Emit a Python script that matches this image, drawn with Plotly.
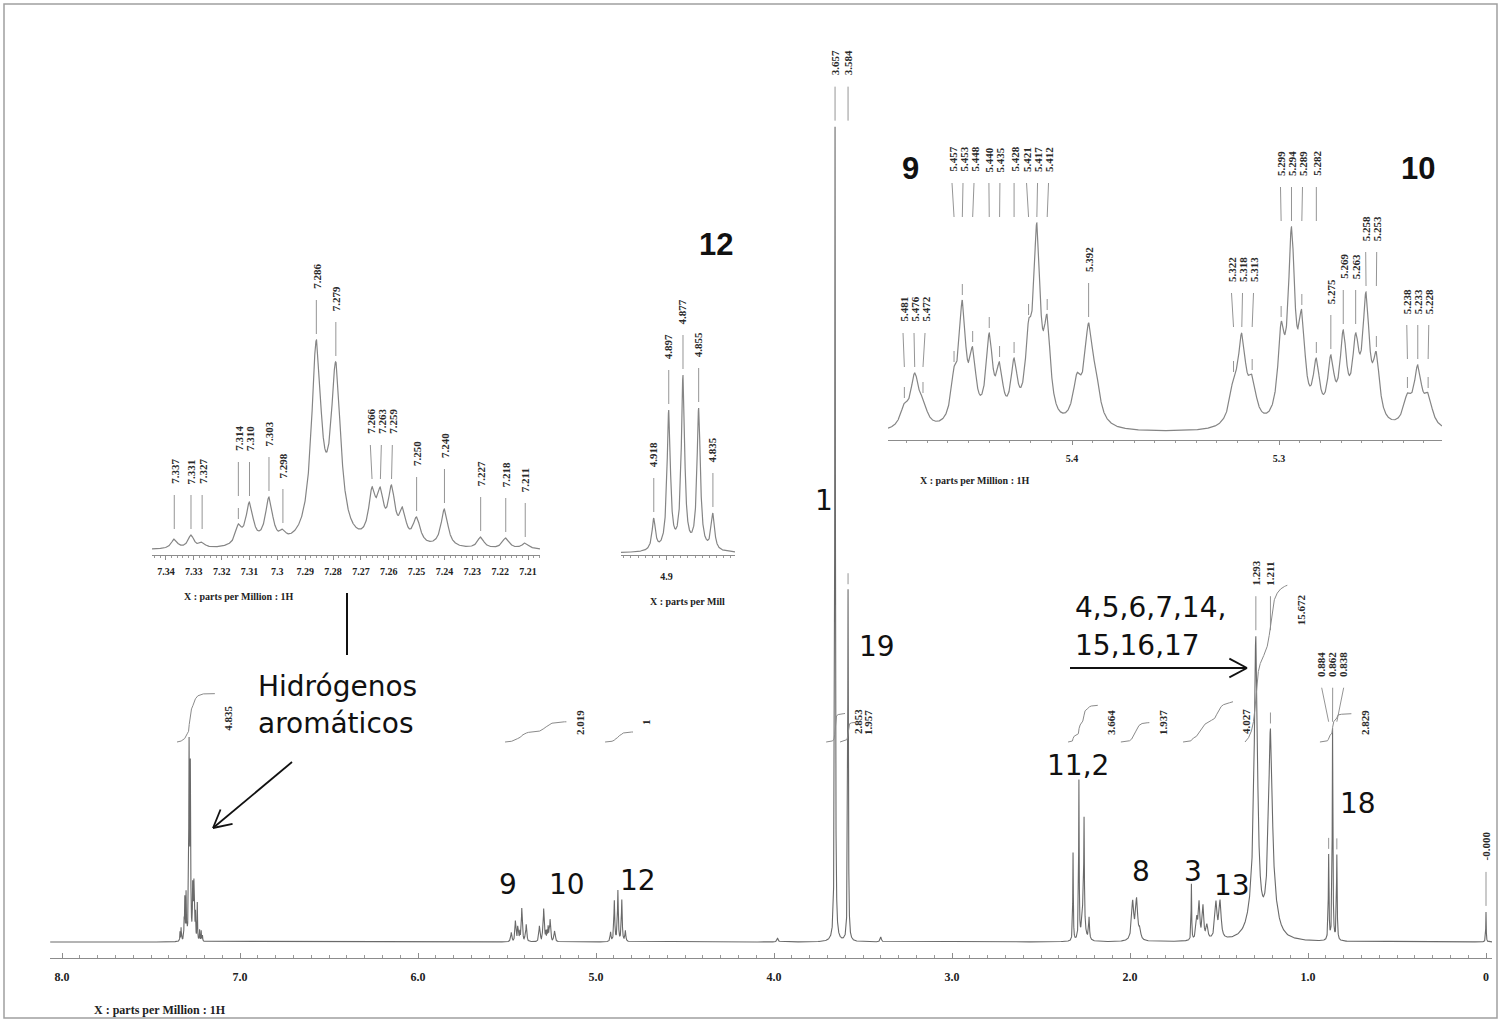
import numpy as np
import plotly.graph_objects as go

W, H = 1501, 1022

# ======================= DATA =======================
# Main 1H spectrum signals that are not expanded in an inset
# (ppm, height above baseline in plot units, half width in ppm)
MAIN_PPM = [3.980, 3.657, 3.584, 3.400,
            2.320, 2.287, 2.262, 2.258, 2.230,
            1.985, 1.963, 1.945,
            1.655, 1.625, 1.612, 1.590, 1.568,
            1.517, 1.494,
            1.310, 1.293, 1.211, 1.185,
            0.884, 0.862, 0.838, 0.000]
MAIN_HEIGHT = [4, 815, 352, 5,
               88, 158, 40, 92, 22,
               38, 40, 9,
               56, 20, 36, 33, 14,
               36, 37,
               22, 282, 198, 14,
               85, 212, 85, 30]
MAIN_HWHM = [0.004, 0.0022, 0.0022, 0.004,
             0.0018, 0.0018, 0.008, 0.0018, 0.003,
             0.007, 0.007, 0.006,
             0.0018, 0.005, 0.005, 0.005, 0.006,
             0.007, 0.007,
             0.035, 0.011, 0.013, 0.03,
             0.0022, 0.0022, 0.0022, 0.0015]

# Aromatic expansion (inset A): positions, observed peak tops, half widths
A_PPM = [7.337, 7.331, 7.327, 7.314, 7.310, 7.303, 7.298, 7.286, 7.279,
         7.266, 7.263, 7.259, 7.255, 7.250, 7.240, 7.227, 7.218, 7.211]
A_TOP = [11, 15, 8, 26, 48, 53, 21, 210, 188, 63, 63, 65, 43, 33, 41, 13, 12, 7]
A_HWHM = [0.0013, 0.0013, 0.0012, 0.0013, 0.0016, 0.0016, 0.0012, 0.0021, 0.0021,
          0.0015, 0.0014, 0.0015, 0.0014, 0.0016, 0.0015, 0.0014, 0.0015, 0.0015]

# H-12 expansion (inset B)
B_PPM = [4.918, 4.897, 4.877, 4.855, 4.835]
B_TOP = [35, 143, 178, 145, 40]
B_HWHM = [0.0028, 0.0028, 0.0028, 0.0028, 0.0028]

# H-9 / H-10 expansion (inset C)
C_PPM = [5.481, 5.476, 5.472, 5.457, 5.453, 5.448, 5.440, 5.435, 5.428, 5.421,
         5.417, 5.412, 5.3976, 5.392, 5.3884, 5.322, 5.318, 5.313, 5.299, 5.294,
         5.289, 5.282, 5.275, 5.269, 5.263, 5.258, 5.253, 5.238, 5.233, 5.228]
C_TOP = [30, 60, 35, 66, 133, 86, 100, 71, 75, 113,
         210, 118, 60, 110, 63, 56, 100, 58, 111, 206,
         123, 75, 78, 103, 100, 141, 81, 40, 68, 40]
C_HWHM = [0.0024, 0.0024, 0.0024, 0.0019, 0.0019, 0.0019, 0.0019, 0.0019, 0.0019, 0.0019,
          0.0019, 0.0019, 0.0024, 0.0024, 0.0024, 0.0024, 0.0022, 0.0024, 0.0019, 0.0019,
          0.0019, 0.0019, 0.0019, 0.0019, 0.0019, 0.0019, 0.0019, 0.0024, 0.0022, 0.0024]

# heights of the expanded multiplets in the full spectrum
MAIN_GROUP_MAX = {"A": 205, "B": 52, "C": 34}

# peak-pick labels
MAIN_LABELS = [["3.657", "3.584"], ["1.293", "1.211"], ["0.884", "0.862", "0.838"], ["-0.000"]]
A_LABELS = [["7.337", "7.331", "7.327"], ["7.314", "7.310"], ["7.303"], ["7.298"], ["7.286"],
            ["7.279"], ["7.266", "7.263", "7.259"], ["7.250"], ["7.240"], ["7.227"],
            ["7.218"], ["7.211"]]
B_LABELS = [["4.918"], ["4.897"], ["4.877"], ["4.855"], ["4.835"]]
C_LABELS = [["5.481", "5.476", "5.472"],
            ["5.457", "5.453", "5.448", "5.440", "5.435", "5.428", "5.421", "5.417", "5.412"],
            ["5.392"], ["5.322", "5.318", "5.313"], ["5.299", "5.294", "5.289", "5.282"],
            ["5.275"], ["5.269", "5.263"], ["5.258", "5.253"], ["5.238", "5.233", "5.228"]]

# integrals
INTEGRAL_LABELS = ["4.835", "2.019", "1", "2.853", "1.957", "3.664", "1.937", "4.027", "15.672", "2.829"]
INTEGRAL_FROM = [7.354, 5.511, 4.949, 3.708, 3.629, 2.348, 2.056, 1.702, 1.354, 0.933]
INTEGRAL_TO = [7.140, 5.163, 4.792, 3.601, 3.545, 2.180, 1.888, 1.421, 1.112, 0.753]

MAIN_TICKS = [8, 7, 6, 5, 4, 3, 2, 1, 0]
MAIN_TICKTEXT = ["8.0", "7.0", "6.0", "5.0", "4.0", "3.0", "2.0", "1.0", "0"]
A_TICKS = [7.34, 7.33, 7.32, 7.31, 7.30, 7.29, 7.28, 7.27, 7.26, 7.25, 7.24, 7.23, 7.22, 7.21]
A_TICKTEXT = ["7.34", "7.33", "7.32", "7.31", "7.3", "7.29", "7.28", "7.27", "7.26", "7.25",
              "7.24", "7.23", "7.22", "7.21"]
B_TICKS, B_TICKTEXT = [4.9], ["4.9"]
C_TICKS, C_TICKTEXT = [5.4, 5.3], ["5.4", "5.3"]

# ======================= GEOMETRY =======================
AX = {
    "main": dict(xd=(50, 1492), xr=(8.0674, -0.0337), yd=(958, 30), yr=(-16, 912)),
    "A": dict(xd=(152, 540), xr=(7.3450, 7.2057), yd=(555, 270), yr=(-5, 280)),
    "B": dict(xd=(621, 735), xr=(4.964, 4.804), yd=(555, 250), yr=(-2, 303)),
    "C": dict(xd=(888, 1442), xr=(5.4889, 5.2213), yd=(440, 140), yr=(-7, 293)),
}
REFS = {"main": ("x", "y"), "A": ("x2", "y2"), "B": ("x3", "y3"), "C": ("x4", "y4")}


def scale_of(k):
    a = AX[k]
    return (a["xd"][1] - a["xd"][0]) / (a["xr"][0] - a["xr"][1])


def lor(x, c, w):
    return 1.0 / (1.0 + ((x - c) / w) ** 2)


def fit_amplitudes(ppm, top, hw):
    p = np.asarray(ppm, float)
    t = np.asarray(top, float)
    w = np.asarray(hw, float)
    M = lor(p[:, None], p[None, :], w[None, :])
    a = t.copy()
    for _ in range(3000):
        a = np.clip(a + 0.3 * (t - M @ a), 0.0, None)
    return a


def spectrum(x, ppm, amp, hw):
    x = np.atleast_1d(np.asarray(x, float))[:, None]
    return (np.asarray(amp, float)[None, :] *
            lor(x, np.asarray(ppm, float)[None, :], np.asarray(hw, float)[None, :])).sum(axis=1)


amp_A = fit_amplitudes(A_PPM, A_TOP, A_HWHM)
amp_B = fit_amplitudes(B_PPM, B_TOP, B_HWHM)
amp_C = fit_amplitudes(C_PPM, C_TOP, C_HWHM)


def curve_A(x):
    return spectrum(x, A_PPM, amp_A, A_HWHM)


def curve_B(x):
    return spectrum(x, B_PPM, amp_B, B_HWHM)


def curve_C(x):
    return spectrum(x, C_PPM, amp_C, C_HWHM)


def fine_grid(k, n):
    a = AX[k]
    return np.linspace(a["xr"][1], a["xr"][0], n)


gA = np.union1d(fine_grid("A", 5000), A_PPM)
gB = np.union1d(fine_grid("B", 2000), B_PPM)
gC = np.union1d(fine_grid("C", 6000), C_PPM)
yA, yB, yC = curve_A(gA), curve_B(gB), curve_C(gC)
kA = MAIN_GROUP_MAX["A"] / curve_A(np.linspace(7.20, 7.35, 6000)).max()
kB = MAIN_GROUP_MAX["B"] / curve_B(np.linspace(4.80, 4.96, 3000)).max()
kC = MAIN_GROUP_MAX["C"] / curve_C(np.linspace(5.20, 5.50, 8000)).max()


def curve_main(x):
    return (spectrum(x, MAIN_PPM, MAIN_HEIGHT, MAIN_HWHM)
            + kA * curve_A(x) + kB * curve_B(x) + kC * curve_C(x))


centers = np.concatenate([MAIN_PPM, A_PPM, B_PPM, C_PPM]).astype(float)
xg = np.arange(AX["main"]["xr"][1], AX["main"]["xr"][0], 0.0002)
dist = np.abs(xg[:, None] - centers[None, :]).min(axis=1)
keep = (dist < 0.05) | (np.arange(len(xg)) % 25 == 0)
xm = np.union1d(xg[keep], centers)
ym = curve_main(xm)

CURVES = {"main": curve_main, "A": curve_A, "B": curve_B, "C": curve_C}

# ======================= FIGURE =======================
fig = go.Figure()
LINE_MAIN = "#6a6a6a"
LINE_INS = "#858585"
LEAD = "#959595"
SERIF = "Liberation Serif, Times New Roman, serif"
SANS = "DejaVu Sans, Arial, sans-serif"
LABFONT = dict(family=SERIF, size=11, color="#2a2a2a", weight="bold")

fig.add_trace(go.Scatter(x=xm, y=ym, mode="lines", line=dict(color=LINE_MAIN, width=1.1),
                         xaxis="x", yaxis="y", hoverinfo="skip"))
fig.add_trace(go.Scatter(x=gA, y=yA, mode="lines", line=dict(color=LINE_INS, width=1.2),
                         xaxis="x2", yaxis="y2", hoverinfo="skip"))
fig.add_trace(go.Scatter(x=gB, y=yB, mode="lines", line=dict(color=LINE_INS, width=1.2),
                         xaxis="x3", yaxis="y3", hoverinfo="skip"))
fig.add_trace(go.Scatter(x=gC, y=yC, mode="lines", line=dict(color=LINE_INS, width=1.2),
                         xaxis="x4", yaxis="y4", hoverinfo="skip"))

annotations = []


def fan(pxs, minsp):
    out = list(pxs)
    for _ in range(200):
        moved = False
        for i in range(1, len(out)):
            gap = out[i] - out[i - 1]
            if gap < minsp - 1e-6:
                d = (minsp - gap) / 2.0
                out[i - 1] -= d
                out[i] += d
                moved = True
        if not moved:
            break
    return out


def add_peak_labels(key, groups, gap=50, minsp=11):
    xr, yr = REFS[key]
    sc = scale_of(key)
    left = AX[key]["xr"][0]
    f = CURVES[key]
    lx, ly = [], []
    for grp in groups:
        vals = [float(s) for s in grp]
        tops = [float(f(v)[0]) for v in vals]
        tb = max(tops) + gap
        pxs = [(left - v) * sc for v in vals]
        order = np.argsort(pxs)
        fanned = fan([pxs[i] for i in order], minsp)
        labpx = [0.0] * len(vals)
        for j, i in enumerate(order):
            labpx[i] = fanned[j]
        for s, v, t, p in zip(grp, vals, tops, labpx):
            lp = left - p / sc
            annotations.append(dict(x=lp, y=tb, xref=xr, yref=yr, text=s, textangle=-90,
                                    showarrow=False, xanchor="center", yanchor="bottom",
                                    borderpad=0, font=LABFONT))
            lx += [lp, v, None]
            ly += [tb - 10, tb - 44, None]
            if (tb - 44) - (t + 16) > 2:
                lx += [v, v, None]
                ly += [t + 16, t + 5, None]
    fig.add_trace(go.Scatter(x=lx, y=ly, mode="lines", line=dict(color=LEAD, width=1),
                             xaxis=xr, yaxis=yr, hoverinfo="skip"))


add_peak_labels("main", MAIN_LABELS)
add_peak_labels("A", A_LABELS)
add_peak_labels("B", B_LABELS)
add_peak_labels("C", C_LABELS)

# integral curves
INT_BASE, INT_SCALE = 200.0, 10.0
sc_main = scale_of("main")
for s, p0, p1 in zip(INTEGRAL_LABELS, INTEGRAL_FROM, INTEGRAL_TO):
    v = float(s)
    m = (xm <= p0) & (xm >= p1)
    xs = xm[m][::-1]
    ys = ym[m][::-1]
    cum = np.concatenate([[0.0], np.cumsum(0.5 * (ys[1:] + ys[:-1]) * np.abs(np.diff(xs)))])
    yi = INT_BASE + v * INT_SCALE * cum / cum[-1]
    fig.add_trace(go.Scatter(x=xs, y=yi, mode="lines", line=dict(color="#8a8a8a", width=1),
                             xaxis="x", yaxis="y", hoverinfo="skip"))
    top = INT_BASE + v * INT_SCALE
    annotations.append(dict(x=p1 - 13.0 / sc_main, y=max(top - 25, INT_BASE + 20), xref="x", yref="y",
                            text=s, textangle=-90, showarrow=False, xanchor="center",
                            yanchor="middle", borderpad=0, font=LABFONT))


def P(xp, yp):
    return xp / W, 1 - yp / H


def text(s, xp, yp, size=28, xanchor="center", bold=False, family=SANS):
    x, y = P(xp, yp)
    annotations.append(dict(x=x, y=y, xref="paper", yref="paper", text=s, showarrow=False,
                            xanchor=xanchor, yanchor="middle",
                            font=dict(family=family, size=size, color="#111111",
                                      weight="bold" if bold else "normal")))


text("Hidrógenos", 256, 686, xanchor="left")
text("aromáticos", 256, 723, xanchor="left")
text("1", 824, 500)
text("19", 877, 646)
text("4,5,6,7,14,", 1073, 607, xanchor="left")
text("15,16,17", 1073, 645, xanchor="left")
text("11,2", 1078, 765)
text("8", 1141, 871)
text("3", 1193, 871)
text("13", 1232, 885)
text("18", 1358, 803)
text("9", 508, 884)
text("10", 567, 884)
text("12", 638, 880)
BOLDSANS = "Liberation Sans, Arial, sans-serif"
text("9", 910, 168, size=31, bold=True, family=BOLDSANS)
text("10", 1418, 168, size=31, bold=True, family=BOLDSANS)
text("12", 716, 245, size=31, bold=True, family=BOLDSANS)

AXT = dict(family=SERIF, size=10, color="#222222", weight="bold")
for s, xp, yp, sz in [("X : parts per Million : 1H", 92, 1010, 12),
                      ("X : parts per Million : 1H", 182, 596, 10),
                      ("X : parts per Mill", 648, 601, 10),
                      ("X : parts per Million : 1H", 918, 481, 10)]:
    x, y = P(xp, yp)
    annotations.append(dict(x=x, y=y, xref="paper", yref="paper", text=s, showarrow=False,
                            xanchor="left", yanchor="middle", font=dict(AXT, size=sz)))

shapes = []


def seg(x0p, y0p, x1p, y1p, color="#111111", width=2):
    a, b = P(x0p, y0p)
    c, d = P(x1p, y1p)
    shapes.append(dict(type="line", xref="paper", yref="paper", x0=a, y0=b, x1=c, y1=d,
                       line=dict(color=color, width=width)))


def arrow(tail, head, leg=20, ang=28):
    seg(tail[0], tail[1], head[0], head[1], width=1.8)
    v = np.array(head, float) - np.array(tail, float)
    u = v / np.linalg.norm(v)
    for sgn in (1, -1):
        t = np.radians(sgn * ang)
        r = np.array([u[0] * np.cos(t) - u[1] * np.sin(t), u[0] * np.sin(t) + u[1] * np.cos(t)])
        e = np.array(head, float) - leg * r
        seg(head[0], head[1], e[0], e[1], width=1.8)


arrow((292, 762), (213, 828))
arrow((1070, 668), (1247, 668))
seg(347, 593, 347, 655, width=2)
fx0, fy0 = P(4, 1018)
fx1, fy1 = P(1497, 4)
shapes.append(dict(type="rect", xref="paper", yref="paper", x0=fx0, y0=fy0, x1=fx1, y1=fy1,
                   line=dict(color="#a0a0a0", width=1.5)))


def xaxis_cfg(k, tickvals, ticktext, fsize, standoff, minor_dtick, ticks, ticklen, anchor):
    a = AX[k]
    return dict(domain=[a["xd"][0] / W, a["xd"][1] / W], range=list(a["xr"]), anchor=anchor,
                showline=True, linecolor="#8c8c8c", linewidth=1, showgrid=False, zeroline=False,
                tickmode="array", tickvals=tickvals, ticktext=ticktext, ticks=ticks,
                ticklen=ticklen, tickcolor="#8c8c8c", ticklabelstandoff=standoff,
                tickfont=dict(family=SERIF, size=fsize, color="#222222", weight="bold"),
                minor=dict(dtick=minor_dtick, tick0=0, ticks=ticks, ticklen=max(2, ticklen - 2),
                           tickcolor="#9a9a9a"))


def yaxis_cfg(k, anchor):
    a = AX[k]
    return dict(domain=[1 - a["yd"][0] / H, 1 - a["yd"][1] / H], range=list(a["yr"]),
                anchor=anchor, visible=False, showgrid=False, zeroline=False)


fig.update_layout(
    width=W, height=H, margin=dict(l=0, r=0, t=0, b=0),
    paper_bgcolor="white", plot_bgcolor="rgba(0,0,0,0)", showlegend=False,
    xaxis=xaxis_cfg("main", MAIN_TICKS, MAIN_TICKTEXT, 12, 8, 0.1, "inside", 5, "y"),
    yaxis=yaxis_cfg("main", "x"),
    xaxis2=xaxis_cfg("A", A_TICKS, A_TICKTEXT, 10, 3, 0.002, "outside", 4, "y2"),
    yaxis2=yaxis_cfg("A", "x2"),
    xaxis3=xaxis_cfg("B", B_TICKS, B_TICKTEXT, 10, 8, 0.01, "outside", 4, "y3"),
    yaxis3=yaxis_cfg("B", "x3"),
    xaxis4=xaxis_cfg("C", C_TICKS, C_TICKTEXT, 10, 5, 0.01, "outside", 4, "y4"),
    yaxis4=yaxis_cfg("C", "x4"),
    annotations=annotations, shapes=shapes,
)

fig.write_html("out.html", config={"displayModeBar": False},
               post_script="document.body.style.margin='0px';")
